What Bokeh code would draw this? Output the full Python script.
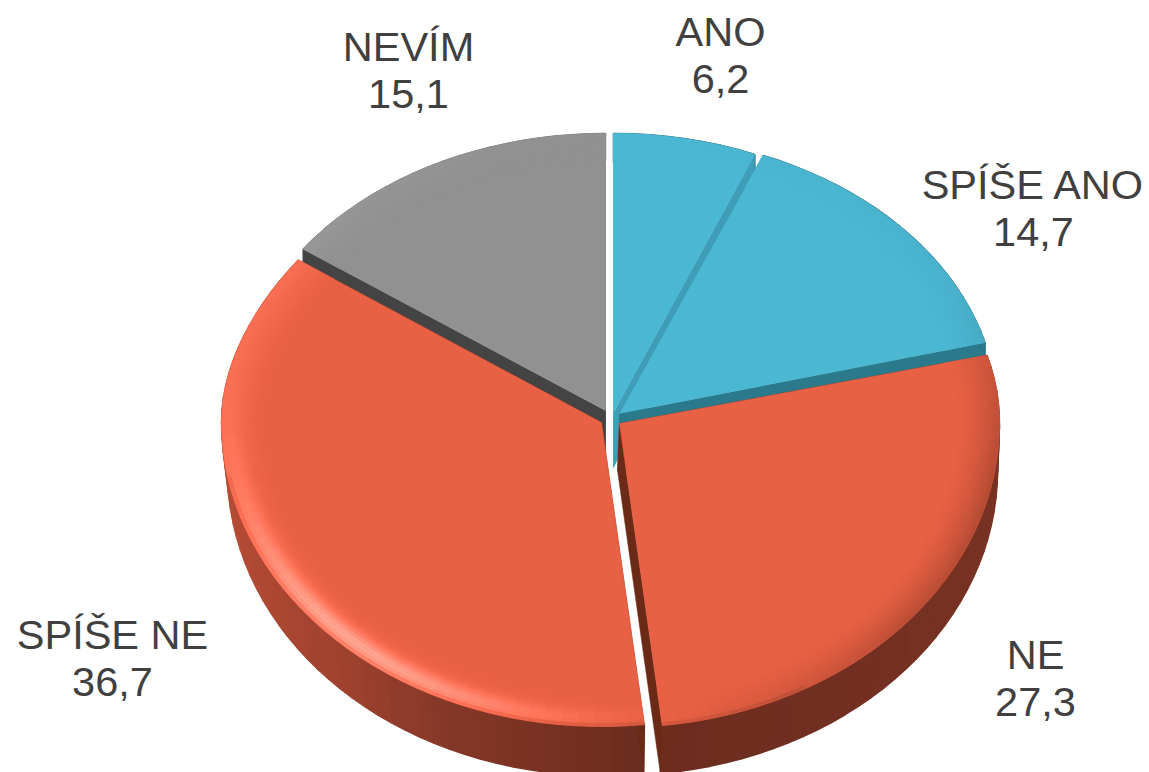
import math
import numpy as np
from bokeh.plotting import figure
from bokeh.models import Range1d
from bokeh.core.properties import value
from bokeh.embed import file_html
from bokeh.resources import INLINE

# ---- data ----
categories = ["ANO", "SPÍŠE ANO", "NE", "SPÍŠE NE", "NEVÍM"]
values = [6.2, 14.7, 27.3, 36.7, 15.1]

# ---- style / layout ----
base_colors = [(75, 184, 211), (75, 184, 211), (233, 97, 68), (233, 97, 68), (145, 145, 145)]
cut_colors = ["#3f9db8", "#2a7a8c", "#6b2a17", "#6b2a17", "#444444"]
rim_strength = [0.6, 0.6, 1.0, 1.0, 0.45]
# vertex x, y, rx, ry back, ry front, lower vertex dx, dy, lower rx, lower ry, rx shrink at back
geometry = [
    (613, 412, 372, 279, 304, 0, 55, 372, 305, 0),
    (619, 413, 378, 279, 304, 0, 50, 378, 305, 0),
    (619, 423, 380, 268, 304, -2, 47, 380, 305, 0),
    (601, 422, 380, 279, 304, 0, 48, 374, 305, 7),
    (605, 410, 372, 277, 300, 0, 50, 372, 300, 0),
]
draw_order = [4, 0, 1, 2, 3]
label_pos = [(720, 31), (1033, 184), (1035, 654), (112, 634), (408, 46)]
line_gap = 47
text_color = "#404040"
rim_start = 0.88

wall_t = [0, 75, 95, 130, 175, 205, 225, 250, 270, 360]
wall_f = [0.5, 0.5, 0.52, 0.5, 0.46, 0.58, 0.69, 0.76, 0.8, 0.8]
rim_t = [0, 60, 100, 130, 170, 200, 230, 270, 305, 340, 360]
rim_s = [0.0, -0.12, -0.46, -0.42, -0.08, 0.12, 0.2, 0.2, 0.2, 0.05, 0.0]


def hexc(rgb):
    return "#%02x%02x%02x" % tuple(int(max(0, min(255, round(c)))) for c in rgb)


def scale(rgb, k):
    return [c * k for c in rgb]


def top_pt(g, t, r=1.0):
    s, c = math.sin(t), math.cos(t)
    ry = g[3] if c > 0 else g[4]
    u = min(1.0, c / 0.6) if c > 0 else 0.0
    rx = g[2] - g[9] * u * u * (3 - 2 * u)
    return g[0] + r * rx * s, g[1] - r * ry * c


def low_pt(g, t):
    return g[0] + g[5] + g[7] * math.sin(t), g[1] + g[6] - g[8] * math.cos(t)


def rim_color(base, tdeg, f, k):
    a = float(np.interp(tdeg, rim_t, rim_s))
    s = a * f ** 1.5
    s += 0.8 * math.exp(-((tdeg - 222) / 30) ** 2) * math.exp(-((f - 0.76) / 0.24) ** 2)
    if f > 0.93 and 150 < tdeg < 260:
        s -= (f - 0.93) / 0.07 * 0.35
    s *= k
    if s >= 0:
        return hexc([base[0] + s * 90, base[1] + s * 75, base[2] + s * 85])
    return hexc(scale(base, 1 + 0.5 * s))


p = figure(width=1149, height=772, output_backend="svg", toolbar_location=None,
           x_range=Range1d(0, 1149), y_range=Range1d(772, 0),
           min_border=0)
p.axis.visible = False
p.grid.visible = False
p.outline_line_color = None
p.background_fill_color = "white"
p.border_fill_color = "white"

total = sum(values)
starts = np.cumsum([0] + values[:-1]) / total * 360.0
sweeps = np.array(values) / total * 360.0

for i in draw_order:
    g = geometry[i]
    base = base_colors[i]
    t0, sw = float(starts[i]), float(sweeps[i])
    n = max(6, int(sw / 2.5))
    ts = np.linspace(t0, t0 + sw, n + 1)

    # outer wall
    wx, wy, wc = [], [], []
    for a, b in zip(ts[:-1], ts[1:]):
        ra, rb = math.radians(a), math.radians(b)
        pts = [top_pt(g, ra), top_pt(g, rb), low_pt(g, rb), low_pt(g, ra)]
        wx.append([q[0] for q in pts])
        wy.append([q[1] for q in pts])
        wc.append(hexc(scale(base, float(np.interp((a + b) / 2, wall_t, wall_f)))))
    p.patches(wx, wy, fill_color=wc, line_color=wc, line_width=1.5)

    # cut faces
    for t in (t0, t0 + sw):
        rt = math.radians(t)
        a, b = top_pt(g, rt), low_pt(g, rt)
        p.patch([g[0], a[0], b[0], g[0] + g[5]], [g[1], a[1], b[1], g[1] + g[6]],
                fill_color=cut_colors[i], line_color=cut_colors[i], line_width=0.5)

    # flat top face
    rim = [top_pt(g, math.radians(t)) for t in ts]
    p.patch([g[0]] + [q[0] for q in rim], [g[1]] + [q[1] for q in rim],
            fill_color=hexc(base), line_color=hexc(base), line_width=0.5)

    # bevel
    rings = np.linspace(rim_start, 1.0, 13)
    bx, by, bc = [], [], []
    for r0, r1 in zip(rings[:-1], rings[1:]):
        f = ((r0 + r1) / 2 - rim_start) / (1 - rim_start)
        for a, b in zip(ts[:-1], ts[1:]):
            ra, rb = math.radians(a), math.radians(b)
            pts = [top_pt(g, ra, r0), top_pt(g, rb, r0), top_pt(g, rb, r1), top_pt(g, ra, r1)]
            bx.append([q[0] for q in pts])
            by.append([q[1] for q in pts])
            bc.append(rim_color(base, (a + b) / 2, f, rim_strength[i]))
    p.patches(bx, by, fill_color=bc, line_color=bc, line_width=0.6)

# labels
tx, ty, tt = [], [], []
for c, v, (lx, ly) in zip(categories, values, label_pos):
    tx += [lx, lx]
    ty += [ly, ly + line_gap]
    tt += [c, f"{v:.1f}".replace(".", ",")]
p.text(tx, ty, text=tt, text_font=value("Liberation Sans"), text_font_size="41.5px",
       text_color=text_color, text_align="center", text_baseline="middle")

open("out.html", "w").write(file_html(p, INLINE))
